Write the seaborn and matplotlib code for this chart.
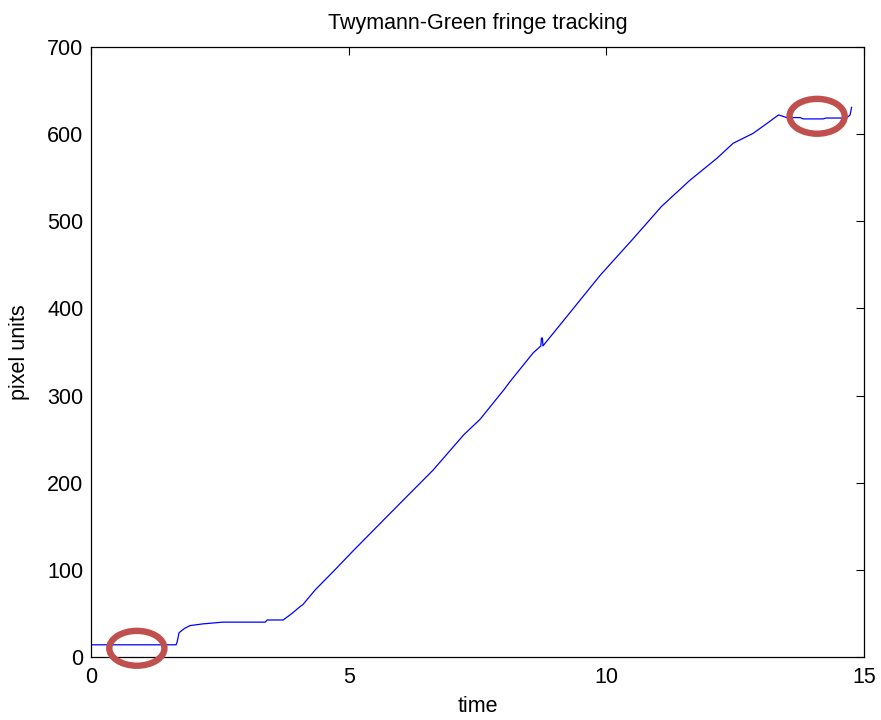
import matplotlib
matplotlib.use('Agg')
import matplotlib.pyplot as plt
from matplotlib.patches import Ellipse
import pandas as pd
import seaborn as sns

# Values
time = [0.00, 1.65, 1.67, 1.71, 1.82, 1.92, 2.17, 2.56, 3.38, 3.42, 3.73, 3.90,
        4.06, 4.11, 4.35, 4.70, 5.09, 5.74, 6.64, 7.23, 7.55, 8.03, 8.13, 8.58,
        8.73, 8.74, 8.76, 8.77, 9.23, 9.88, 10.52, 11.07, 11.62, 12.14, 12.46,
        12.85, 13.11, 13.34, 13.40, 13.50, 13.76, 13.82, 14.21, 14.26, 14.66,
        14.73, 14.76]
pixels = [14, 14, 17, 28, 33, 36, 38, 40, 40, 42.5, 42.5, 50,
          58, 60, 77, 98, 122, 161, 214.6, 254.8, 272.8, 308, 316, 349,
          357, 366, 366, 357, 390.5, 438, 480, 517, 547, 572, 589.5,
          601, 612, 622, 621, 619, 619, 617.5, 617.5, 618.5, 618.5,
          622, 631]

# highlighted spots (red rings)
ring_x = [0.89, 14.09]
ring_y = [10, 620.5]

df = pd.DataFrame({'time': time, 'pixel units': pixels})

sns.set_style('white')
plt.rcParams['font.family'] = ['Liberation Sans', 'DejaVu Sans']
plt.rcParams['text.color'] = 'black'
plt.rcParams['axes.labelcolor'] = 'black'

fig = plt.figure(figsize=(8.81, 7.2), dpi=100)
ax = fig.add_axes([0.1033, 0.0875, 0.8774, 0.8472])

sns.lineplot(data=df, x='time', y='pixel units', ax=ax, sort=False,
             estimator=None, color='#0000FF', linewidth=0.9)

for cx, cy in zip(ring_x, ring_y):
    ax.add_patch(Ellipse((cx, cy), width=1.07, height=40, fill=False,
                         edgecolor='#C0504D', linewidth=4.6, clip_on=False,
                         zorder=5))

ax.set_xlim(0, 15)
ax.set_ylim(0, 700)
ax.set_xticks([0, 5, 10, 15])
ax.set_yticks(range(0, 701, 100))
ax.tick_params(direction='in', length=5.5, width=0.8, top=True, right=True,
               labelsize=15.5, colors='black')
ax.tick_params(axis='y', pad=5.5)
ax.tick_params(axis='x', pad=7)
for s in ax.spines.values():
    s.set_visible(True)
    s.set_color('black')
    s.set_linewidth(0.9)

ax.set_title('Twymann-Green fringe tracking', fontsize=15.5, pad=13,
             color='black')
ax.set_xlabel('time', fontsize=15.5, labelpad=6, color='black')
ax.set_ylabel('pixel units', fontsize=15.5, labelpad=12, color='black')

fig.savefig('out.png', dpi=100)
